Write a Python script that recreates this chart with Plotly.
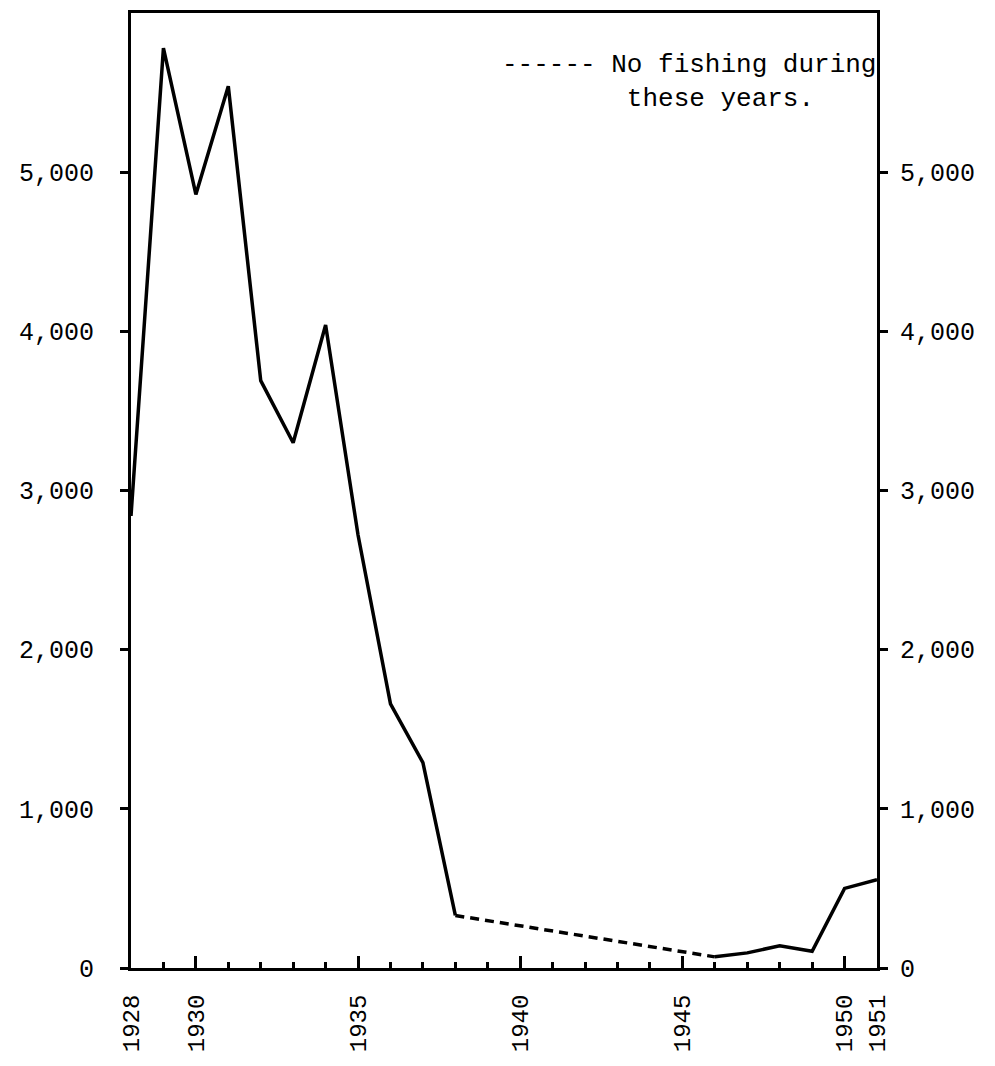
import plotly.graph_objects as go

years = list(range(1928, 1952))
catch = [2840, 5780, 4860, 5540, 3690, 3300, 4040, 2720, 1660, 1290, 330,
         None, None, None, None, None, None, None,
         70, 95, 140, 105, 500, 555]
gap_years = [1938, 1946]
gap_catch = [330, 70]

major_ticks = [1928, 1930, 1935, 1940, 1945, 1950, 1951]
y_ticks = [0, 1000, 2000, 3000, 4000, 5000]
y_labels = ["0", "1,000", "2,000", "3,000", "4,000", "5,000"]

note_line1 = "------ No fishing during"
note_line2 = "these years."

FONT = "Liberation Mono"
FSIZE = 25

fig = go.Figure()
fig.add_trace(go.Scatter(x=years, y=catch, mode="lines", connectgaps=False,
                         line=dict(color="black", width=3.5), showlegend=False))
fig.add_trace(go.Scatter(x=gap_years, y=gap_catch, mode="lines",
                         line=dict(color="black", width=3.5, dash="9px,6px"), showlegend=False))
fig.add_trace(go.Scatter(x=gap_years, y=gap_catch, mode="lines", yaxis="y2",
                         line=dict(color="rgba(0,0,0,0)", width=0), showlegend=False,
                         hoverinfo="skip"))

fig.update_layout(
    width=979, height=1050,
    margin=dict(l=123, r=110, t=5, b=90, autoexpand=False),
    paper_bgcolor="white", plot_bgcolor="white",
    font=dict(family=FONT, size=FSIZE, color="black"),
    xaxis=dict(range=[1928, 1951], tickvals=major_ticks, ticktext=[str(v) for v in major_ticks],
               tickangle=-90, ticks="inside", ticklen=12, tickwidth=3, tickcolor="black",
               tickfont=dict(family=FONT, size=24, color="black"),
               showline=True, linewidth=3, linecolor="black", mirror=True, automargin=False,
               showgrid=False, zeroline=False, ticklabelstandoff=14,
               minor=dict(dtick=1, ticks="inside", ticklen=6, tickwidth=3, tickcolor="black",
                          showgrid=False)),
    yaxis=dict(range=[0, 6000], tickvals=y_ticks, ticktext=y_labels, automargin=False,
               ticks="outside", ticklen=8, tickwidth=3, tickcolor="black",
               showline=True, linewidth=3, linecolor="black",
               showgrid=False, zeroline=False, ticklabelstandoff=21),
    yaxis2=dict(range=[0, 6000], tickvals=y_ticks, ticktext=y_labels, overlaying="y", side="right",
                automargin=False,
                ticks="outside", ticklen=8, tickwidth=3, tickcolor="black",
                showline=True, linewidth=3, linecolor="black",
                showgrid=False, zeroline=False, ticklabelstandoff=7),
)

fig.add_annotation(xref="paper", yref="paper", x=0.494, y=0.928, xanchor="left", yanchor="middle",
                   align="left",
                   text=note_line1 + "<br>" + "&nbsp;" * 8 + note_line2, showarrow=False,
                   font=dict(family=FONT, size=26, color="black"))

fig.write_html("out.html")
